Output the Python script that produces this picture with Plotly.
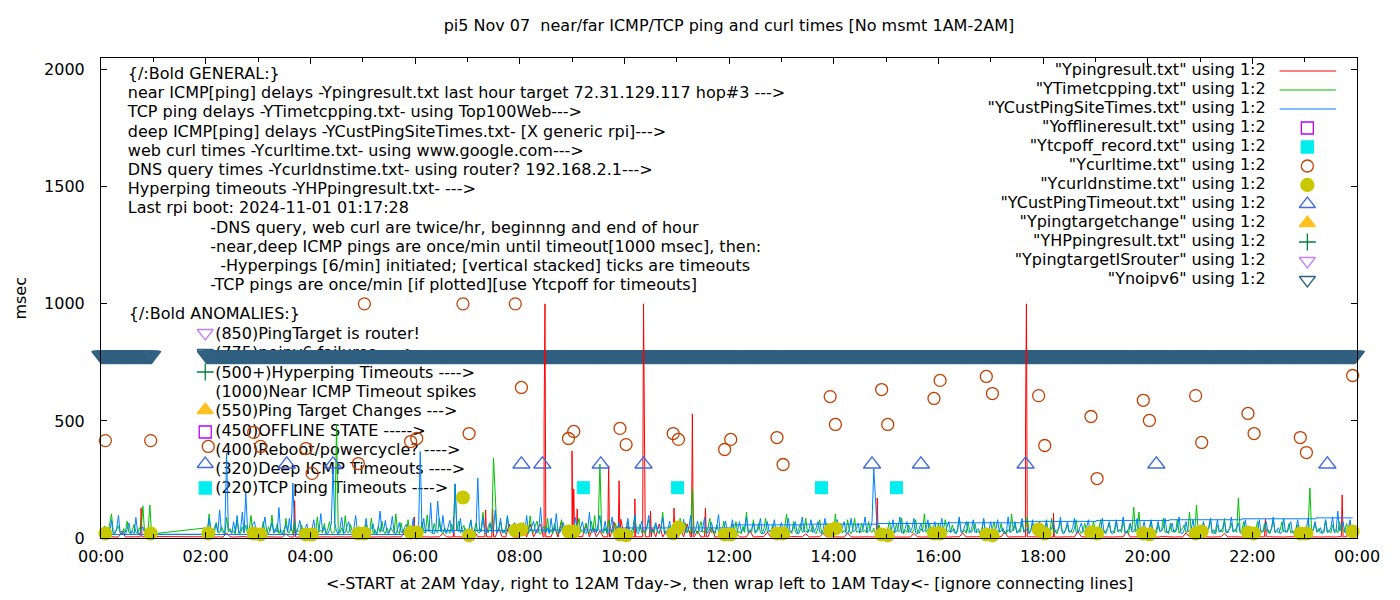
import plotly.graph_objects as go

# ---------------- data ----------------
# hours that have minute data (no measurements 1AM-2AM)
HOURS = [0, 2, 3, 4, 5, 6, 7, 8, 9, 10, 11, 12, 13, 14, 15, 16, 17, 18, 19, 20, 21, 22, 23]

# near ICMP ping (Ypingresult.txt), msec - 15 samples per hour (every 4 minutes)
RED_MS = [
    [4, 5, 4, 6, 4, 5, 30, 4, 5, 4, 6, 5, 5, 4, 6],
    [5, 4, 6, 4, 5, 4, 22, 5, 4, 5, 4, 6, 4, 5, 4],
    [4, 5, 4, 6, 5, 4, 5, 4, 18, 5, 4, 4, 5, 4, 5],
    [5, 4, 5, 4, 6, 5, 4, 5, 4, 5, 4, 6, 5, 4, 5],
    [4, 5, 4, 5, 4, 6, 5, 4, 5, 4, 5, 4, 25, 5, 4],
    [5, 4, 6, 5, 4, 5, 4, 5, 20, 5, 4, 5, 5, 4, 6],
    [4, 5, 30, 5, 4, 6, 5, 4, 4, 40, 5, 4, 60, 5, 4],
    [5, 40, 4, 60, 5, 35, 60, 5, 4, 5, 45, 4, 70, 5, 30],
    [5, 4, 6, 5, 60, 4, 45, 5, 30, 4, 5, 5, 70, 4, 80],
    [5, 50, 4, 5, 5, 4, 6, 5, 40, 5, 60, 4, 30, 5, 4],
    [4, 40, 5, 60, 4, 5, 30, 4, 5, 5, 45, 4, 5, 30, 4],
    [5, 4, 20, 5, 4, 5, 30, 4, 5, 4, 6, 25, 4, 5, 4],
    [4, 5, 4, 6, 5, 4, 5, 18, 4, 5, 4, 5, 20, 4, 5],
    [5, 4, 5, 4, 22, 5, 4, 5, 6, 4, 5, 4, 5, 4, 4],
    [4, 5, 4, 5, 4, 6, 5, 4, 20, 5, 4, 5, 4, 6, 5],
    [5, 4, 6, 4, 5, 4, 5, 22, 4, 5, 4, 5, 6, 4, 5],
    [4, 5, 4, 5, 25, 4, 5, 4, 6, 5, 4, 5, 5, 4, 5],
    [5, 4, 5, 4, 4, 5, 4, 6, 5, 4, 28, 5, 4, 5, 4],
    [4, 5, 4, 6, 5, 4, 5, 4, 5, 30, 4, 5, 4, 6, 5],
    [5, 4, 5, 4, 6, 5, 4, 5, 4, 5, 4, 22, 5, 4, 5],
    [4, 6, 5, 4, 5, 4, 5, 20, 4, 5, 4, 6, 5, 4, 5],
    [5, 4, 5, 4, 6, 5, 4, 6, 5, 4, 5, 4, 5, 6, 4],
    [4, 5, 4, 6, 5, 4, 5, 4, 5, 4, 6, 5, 5, 60, 5],
]
# near ICMP spikes / 1000 msec timeouts at single minutes
RED_SPIKE_TIMES = ["00:45", "00:46", "00:47", "03:41", "03:42", "03:43", "05:58", "05:59", "06:00",
                   "06:43", "06:44", "06:45", "07:20", "07:21", "07:22", "07:28", "07:29", "07:30",
                   "08:27", "08:28", "08:29", "08:30", "09:00", "09:01", "09:02", "09:03",
                   "09:05", "09:06", "09:07", "09:41", "09:42", "09:43", "09:53", "09:54", "09:55",
                   "10:11", "10:12", "10:13", "10:21", "10:22", "10:23", "10:24", "10:29", "10:30",
                   "10:31", "10:56", "10:57", "10:58", "11:17", "11:18", "11:19", "11:32", "11:33",
                   "11:34", "14:49", "14:50", "14:51", "17:39", "17:40", "17:41", "17:42",
                   "18:11", "18:12", "18:13", "22:14", "22:15", "22:16", "23:42", "23:43", "23:44"]
RED_SPIKE_MS = [5, 128, 5, 5, 160, 5, 5, 90, 5,
                5, 90, 5, 5, 120, 5, 5, 124, 5,
                5, 480, 1000, 5, 372, 5, 209, 5,
                5, 124, 5, 5, 308, 5, 5, 244, 5,
                5, 167, 5, 5, 1000, 517, 5, 5, 115,
                5, 5, 128, 5, 5, 530, 5, 5, 128,
                5, 5, 171, 5, 5, 500, 1000, 5,
                5, 107, 5, 5, 80, 5, 5, 184, 5]

# TCP ping (YTimetcpping.txt), msec - 30 samples per hour (every 2 minutes)
TCP_MS = [
    [24, 31, 18, 45, 22, 60, 103, 28, 19, 36, 52, 21, 17, 40, 26, 72, 23, 18, 34, 58, 25, 19, 44, 30, 137, 22, 38, 27, 141, 17],
    [43, 30, 103, 24, 38, 19, 66, 27, 21, 50, 33, 18, 88, 25, 40, 22, 31, 17, 78, 29, 20, 46, 24, 55, 19, 36, 96, 23, 30, 20],
    [26, 39, 20, 70, 24, 17, 48, 31, 98, 22, 27, 60, 19, 35, 24, 14, 84, 28, 21, 45, 18, 75, 26, 33, 22, 56, 20, 38, 16, 29],
    [28, 20, 41, 18, 90, 25, 33, 22, 62, 17, 38, 70, 24, 19, 30, 485, 26, 21, 44, 18, 95, 27, 22, 58, 31, 15, 40, 24, 48, 21],
    [18, 33, 60, 22, 27, 85, 19, 36, 16, 50, 24, 72, 29, 19, 42, 23, 45, 31, 20, 103, 26, 18, 66, 24, 35, 15, 78, 28, 22, 26],
    [30, 22, 40, 17, 70, 26, 21, 98, 33, 24, 19, 62, 28, 22, 84, 30, 18, 44, 25, 36, 20, 60, 26, 231, 31, 72, 22, 38, 54, 20],
    [26, 40, 78, 19, 32, 64, 24, 21, 45, 110, 28, 36, 22, 60, 30, 342, 196, 25, 40, 70, 21, 33, 18, 90, 27, 44, 21, 58, 29, 24],
    [22, 38, 66, 20, 29, 18, 95, 31, 24, 55, 72, 22, 17, 40, 50, 26, 84, 21, 33, 20, 62, 28, 17, 44, 78, 24, 36, 25, 56, 21],
    [26, 34, 17, 55, 84, 23, 30, 21, 64, 28, 19, 72, 33, 96, 24, 38, 316, 26, 20, 45, 18, 78, 29, 21, 40, 62, 25, 33, 28, 22],
    [18, 42, 70, 24, 30, 20, 90, 26, 35, 58, 22, 30, 17, 48, 78, 25, 33, 21, 62, 27, 18, 40, 110, 24, 31, 21, 50, 28, 37, 23],
    [25, 36, 84, 20, 29, 64, 22, 31, 18, 209, 26, 35, 17, 48, 70, 24, 30, 20, 44, 84, 22, 30, 18, 56, 27, 36, 25, 72, 21, 30],
    [21, 33, 58, 26, 70, 19, 30, 18, 50, 24, 111, 28, 36, 25, 78, 20, 33, 62, 24, 17, 40, 84, 26, 31, 22, 56, 28, 20, 36, 24],
    [25, 36, 48, 103, 22, 30, 20, 70, 28, 17, 40, 62, 24, 30, 84, 21, 35, 27, 56, 25, 19, 42, 78, 24, 18, 33, 64, 28, 22, 30],
    [30, 103, 26, 40, 62, 21, 33, 24, 78, 30, 18, 36, 84, 25, 29, 22, 64, 26, 33, 21, 70, 30, 24, 42, 17, 30, 56, 24, 28, 21],
    [25, 38, 70, 21, 30, 24, 62, 28, 30, 84, 18, 33, 24, 56, 28, 21, 36, 78, 25, 20, 40, 30, 103, 24, 36, 62, 29, 18, 33, 24],
    [62, 28, 21, 40, 78, 25, 33, 22, 56, 26, 18, 38, 84, 30, 24, 35, 20, 70, 28, 24, 40, 62, 22, 30, 18, 42, 78, 26, 36, 30],
    [25, 40, 70, 21, 33, 28, 62, 24, 30, 18, 36, 26, 103, 30, 56, 22, 33, 25, 70, 28, 40, 90, 21, 35, 62, 24, 30, 25, 56, 28],
    [21, 36, 62, 25, 30, 84, 22, 33, 18, 40, 70, 28, 25, 36, 56, 24, 30, 21, 40, 78, 26, 33, 18, 36, 62, 24, 28, 21, 40, 70],
    [30, 22, 36, 78, 25, 33, 18, 40, 62, 24, 30, 21, 70, 28, 36, 24, 84, 22, 30, 18, 56, 33, 132, 26, 38, 111, 25, 30, 21, 36],
    [25, 36, 70, 22, 30, 21, 56, 28, 33, 84, 24, 30, 18, 62, 26, 36, 25, 78, 21, 33, 40, 56, 24, 30, 111, 26, 36, 30, 141, 25],
    [21, 33, 62, 26, 30, 40, 78, 22, 35, 18, 56, 28, 33, 24, 84, 21, 30, 40, 62, 25, 36, 24, 171, 30, 28, 70, 22, 33, 24, 21],
    [30, 24, 36, 70, 21, 33, 25, 62, 28, 36, 18, 40, 78, 24, 30, 21, 36, 70, 26, 33, 25, 62, 22, 30, 18, 40, 56, 26, 33, 30],
    [25, 36, 48, 214, 22, 33, 62, 28, 40, 21, 30, 24, 78, 26, 33, 22, 56, 30, 36, 21, 70, 28, 33, 25, 62, 24, 36, 30, 40, 25],
]

# deep ICMP ping (YCustPingSiteTimes.txt), msec - 30 samples per hour (every 2 minutes)
DEEP_MS = [
    [14, 26, 52, 18, 33, 20, 78, 15, 24, 40, 96, 22, 17, 30, 12, 45, 64, 19, 28, 18, 88, 25, 14, 36, 48, 20, 12, 30, 22, 16],
    [16, 30, 84, 22, 15, 45, 60, 24, 120, 33, 22, 18, 363, 40, 30, 19, 70, 25, 96, 18, 33, 110, 22, 192, 40, 26, 22, 60, 70, 28],
    [30, 22, 15, 48, 90, 26, 18, 35, 66, 22, 40, 25, 130, 20, 16, 38, 58, 24, 84, 30, 235, 22, 18, 44, 75, 26, 14, 40, 60, 24],
    [22, 40, 78, 18, 16, 33, 104, 28, 45, 22, 18, 36, 60, 300, 62, 30, 14, 40, 88, 24, 22, 50, 70, 26, 18, 42, 96, 24, 28, 35],
    [18, 36, 84, 22, 28, 40, 60, 20, 14, 46, 115, 28, 33, 75, 22, 18, 40, 92, 26, 16, 38, 66, 24, 22, 44, 58, 28, 20, 36, 84],
    [28, 40, 22, 370, 30, 84, 24, 36, 28, 150, 22, 18, 40, 158, 60, 26, 96, 30, 18, 44, 75, 28, 22, 231, 33, 28, 84, 24, 30, 40],
    [22, 36, 75, 24, 18, 40, 256, 30, 28, 90, 22, 18, 50, 66, 24, 36, 120, 22, 33, 84, 28, 22, 44, 96, 26, 18, 40, 66, 24, 30],
    [30, 44, 18, 26, 96, 30, 28, 50, 72, 24, 22, 40, 130, 28, 30, 22, 44, 18, 84, 28, 36, 104, 24, 22, 40, 66, 28, 18, 36, 24],
    [28, 40, 88, 24, 22, 48, 70, 26, 18, 36, 110, 30, 24, 40, 22, 60, 96, 28, 30, 72, 24, 18, 44, 90, 26, 30, 40, 66, 24, 28],
    [22, 36, 84, 26, 28, 44, 100, 24, 18, 40, 72, 28, 30, 50, 96, 22, 26, 40, 66, 28, 24, 44, 88, 20, 18, 36, 72, 26, 28, 40],
    [30, 40, 22, 28, 80, 24, 28, 44, 96, 22, 18, 40, 72, 30, 26, 44, 88, 24, 22, 40, 66, 28, 26, 48, 100, 22, 18, 36, 72, 28],
    [28, 40, 78, 24, 18, 36, 70, 28, 30, 44, 90, 22, 26, 40, 64, 24, 28, 44, 84, 22, 18, 36, 70, 28, 30, 40, 78, 24, 22, 36],
    [66, 30, 22, 40, 84, 26, 28, 44, 70, 24, 18, 40, 90, 28, 30, 22, 40, 78, 24, 28, 44, 70, 26, 18, 36, 84, 28, 30, 40, 24],
    [22, 40, 78, 26, 28, 44, 70, 24, 18, 36, 84, 28, 30, 40, 64, 22, 26, 44, 90, 24, 28, 40, 70, 295, 171, 30, 22, 40, 28, 24],
    [30, 40, 18, 26, 78, 24, 28, 44, 90, 22, 26, 40, 70, 24, 28, 44, 84, 22, 18, 36, 64, 28, 30, 40, 78, 24, 22, 36, 70, 26],
    [28, 40, 84, 22, 26, 44, 70, 24, 30, 40, 18, 28, 90, 24, 26, 44, 70, 28, 22, 36, 78, 24, 30, 40, 18, 28, 84, 24, 26, 36],
    [70, 30, 22, 40, 78, 24, 30, 44, 18, 26, 90, 24, 28, 40, 70, 22, 26, 44, 84, 24, 30, 40, 18, 28, 78, 24, 26, 44, 70, 28],
    [28, 40, 78, 22, 26, 44, 64, 24, 30, 40, 90, 22, 18, 36, 70, 28, 26, 44, 84, 24, 22, 40, 64, 28, 30, 44, 78, 24, 22, 36],
    [30, 40, 22, 28, 84, 24, 26, 44, 70, 22, 18, 36, 78, 28, 30, 40, 90, 24, 22, 40, 64, 26, 28, 44, 84, 24, 18, 36, 70, 28],
    [28, 44, 78, 24, 18, 36, 70, 28, 30, 44, 84, 22, 26, 40, 64, 24, 28, 44, 90, 22, 18, 36, 70, 28, 30, 40, 78, 24, 26, 36],
    [22, 36, 70, 28, 30, 44, 84, 22, 18, 36, 78, 26, 28, 44, 70, 24, 22, 40, 90, 28, 30, 44, 64, 22, 18, 36, 78, 26, 28, 40],
    [30, 40, 18, 26, 78, 24, 28, 44, 70, 22, 26, 40, 90, 24, 30, 44, 18, 28, 84, 24, 26, 44, 70, 22, 28, 40, 78, 24, 26, 36],
    [28, 44, 84, 22, 26, 40, 70, 24, 30, 44, 18, 28, 78, 24, 26, 44, 90, 22, 28, 115, 30, 44, 70, 24, 22, 40, 78, 28, 26, 36],
]

# deep ICMP connecting (wrap) line levels
DEEP_STEP_TIMES = ["00:00", "05:50", "07:57", "09:51", "12:03", "13:25", "14:49",
                   "16:12", "17:35", "19:01", "20:25", "21:48", "23:13", "23:55"]
DEEP_STEP_MS = [15, 32, 34, 43, 56, 59, 62, 65, 71, 75, 78, 82, 86, 86]

# web curl (Ycurltime.txt) and DNS query (Ycurldnstime.txt), twice an hour
CURL_TIMES = ["00:05", "00:57", "02:03", "02:55", "03:03", "03:55", "04:02", "04:55", "05:02",
              "05:55", "06:02", "06:55", "07:02", "07:55", "08:02", "08:56", "09:02", "09:55",
              "10:02", "10:56", "11:02", "11:55", "12:02", "12:55", "13:02", "13:56", "14:02",
              "14:55", "15:02", "15:55", "16:02", "16:55", "17:02", "17:55", "18:02", "18:55",
              "19:02", "19:55", "20:02", "20:55", "21:02", "21:55", "22:02", "22:55", "23:02",
              "23:55"]
CURL_MS = [416, 416, 391, 451, 391, 382, 276, 318, 1000, 412, 425, 1000, 446, 1000, 643,
           425, 455, 468, 399, 446, 421, 378, 421, 429, 314, 604, 485, 634, 485, 596, 673,
           690, 617, 608, 395, 519, 254, 588, 502, 608, 408, 532, 446, 429, 365, 694]
DNS_MS = [19, 19, 19, 19, 15, 15, 15, 19, 19, 23, 23, 173, 11, 32, 36, 28, 28, 15, 11,
          19, 45, 15, 15, 19, 19, 32, 41, 15, 11, 19, 19, 15, 11, 36, 19, 23, 19, 19,
          15, 19, 28, 23, 19, 19, 19, 28]

# TCP ping timeouts (Ytcpoff_record.txt)
TCPOFF_TIMES = ["09:13", "11:01", "13:46", "15:12"]
TCPOFF_MS = [215, 215, 215, 215]

# deep ICMP timeouts (YCustPingTimeout.txt)
CUSTTO_TIMES = ["03:33", "04:26", "08:02", "08:26", "09:33", "10:22", "14:44",
                "15:40", "17:40", "20:10", "23:26"]
CUSTTO_MS = [315, 315, 315, 315, 315, 315, 315, 315, 315, 315, 315]

# no ipv6 (Ynoipv6) - marked every minute inside these spans
NOIPV6_SPANS = [("00:00", "00:58"), ("02:01", "23:58")]
NOIPV6_MS = 780

TITLE = "pi5 Nov 07\u00a0 near/far ICMP/TCP ping and curl times [No msmt 1AM-2AM]"
XTITLE = "<-START at 2AM Yday, right to 12AM Tday->, then wrap left to 1AM Tday<- [ignore connecting lines]"
XTICK_TEXT = ["00:00", "02:00", "04:00", "06:00", "08:00", "10:00", "12:00",
              "14:00", "16:00", "18:00", "20:00", "22:00", "00:00"]

GENERAL_LINES = [
    "{/:Bold GENERAL:}",
    "near ICMP[ping] delays -Ypingresult.txt last hour target 72.31.129.117 hop#3 --->",
    "TCP ping delays -YTimetcpping.txt- using Top100Web--->",
    "deep ICMP[ping] delays -YCustPingSiteTimes.txt- [X generic rpi]--->",
    "web curl times -Ycurltime.txt- using www.google.com--->",
    "DNS query times -Ycurldnstime.txt- using router? 192.168.2.1--->",
    "Hyperping timeouts -YHPpingresult.txt- --->",
    "Last rpi boot: 2024-11-01 01:17:28",
    "-DNS query, web curl are twice/hr, beginnng and end of hour",
    "-near,deep ICMP pings are once/min until timeout[1000 msec], then:",
    "-Hyperpings [6/min] initiated; [vertical stacked] ticks are timeouts",
    "-TCP pings are once/min [if plotted][use Ytcpoff for timeouts]",
]
ANOMALY_LINES = [
    "(850)PingTarget is router!",
    "(775)noipv6 failures ---->",
    "(500+)Hyperping Timeouts ---->",
    "(1000)Near ICMP Timeout spikes",
    "(550)Ping Target Changes --->",
    "(450)OFFLINE STATE ----->",
    "(400)Reboot/powercycle? ---->",
    "(320)Deep ICMP Timeouts ---->",
    "(220)TCP ping Timeouts ---->",
]
LEGEND_LABELS = [
    '"Ypingresult.txt" using 1:2',
    '"YTimetcpping.txt" using 1:2',
    '"YCustPingSiteTimes.txt" using 1:2',
    '"Yofflineresult.txt" using 1:2',
    '"Ytcpoff_record.txt" using 1:2',
    '"Ycurltime.txt" using 1:2',
    '"Ycurldnstime.txt" using 1:2',
    '"YCustPingTimeout.txt" using 1:2',
    '"Ypingtargetchange" using 1:2',
    '"YHPpingresult.txt" using 1:2',
    '"YpingtargetISrouter" using 1:2',
    '"Ynoipv6" using 1:2',
]

# ---------------- styles ----------------
FONT = "DejaVu Sans"
FS = 16
RED, GREEN, BLUE = "#ff0000", "#00c000", "#0080ff"
C_OFFLINE, C_TCPOFF, C_CURL, C_DNS = "#c000ff", "#00eeee", "#c04000", "#c8c800"
C_CUSTTO, C_TARGET, C_HP, C_ISROUTER, C_NOIPV6 = "#4169e1", "#ffc020", "#008040", "#c080ff", "#306080"

# plot frame in page pixels (used to place the gnuplot-like key and labels)
L, R, T, B = 101, 1366, 58, 538
Y_TOP = 2050
PAGE_PAD = 8          # default body margin of the html page
FIG_W, FIG_H = 1400 - 2 * PAGE_PAD, 600 - 2 * PAGE_PAD


def hx(px):
    return (px - L) * 24.0 / (R - L)


def vy(py):
    return (B - py) * Y_TOP / (B - T)


def hrs(s):
    h, m = s.split(":")
    return int(h) + int(m) / 60.0


# series in time order
t_red = [h + 4 * i / 60.0 for h in HOURS for i in range(15)]
red_pts = list(zip(t_red, [v for row in RED_MS for v in row]))
red_pts += [(hrs(s), v) for s, v in zip(RED_SPIKE_TIMES, RED_SPIKE_MS)]
red_pts.sort(key=lambda p: p[0])
t_2min = [h + 2 * i / 60.0 for h in HOURS for i in range(30)]
tcp_y = [v for row in TCP_MS for v in row]
deep_y = [v for row in DEEP_MS for v in row]

noipv6_x = []
for a, b in NOIPV6_SPANS:
    m0, m1 = int(round(hrs(a) * 60)), int(round(hrs(b) * 60))
    noipv6_x += [m / 60.0 for m in range(m0, m1 + 1)]

fig = go.Figure()

# labels are in the back layer (as in gnuplot)
gen_x = [128] * 8 + [211, 211, 221, 211]
gen_y = [75 + 19.2 * i for i in range(len(GENERAL_LINES))]
fig.add_trace(go.Scatter(
    x=[hx(v) for v in gen_x], y=[vy(v) for v in gen_y], mode="text",
    text=GENERAL_LINES, textposition="middle right",
    textfont=dict(family=FONT, size=FS, color="black"), cliponaxis=False, hoverinfo="skip"))
an_x = [129] + [216] * len(ANOMALY_LINES)
an_y = [315] + [335 + 19.3 * i for i in range(len(ANOMALY_LINES))]
fig.add_trace(go.Scatter(
    x=[hx(v) for v in an_x], y=[vy(v) for v in an_y], mode="text",
    text=["{/:Bold ANOMALIES:}"] + ANOMALY_LINES, textposition="middle right",
    textfont=dict(family=FONT, size=FS, color="black"), cliponaxis=False, hoverinfo="skip"))

# noipv6 band
fig.add_trace(go.Scatter(
    x=noipv6_x, y=[NOIPV6_MS] * len(noipv6_x), mode="markers",
    marker=dict(symbol="triangle-down-open", size=16, color=C_NOIPV6, line=dict(width=1.3, color=C_NOIPV6)),
    cliponaxis=False))

# main line series
fig.add_trace(go.Scatter(x=[p[0] for p in red_pts], y=[p[1] for p in red_pts], mode="lines",
                         line=dict(color=RED, width=1)))
fig.add_trace(go.Scatter(x=t_2min, y=tcp_y, mode="lines", line=dict(color=GREEN, width=1)))
fig.add_trace(go.Scatter(x=t_2min, y=deep_y, mode="lines", line=dict(color=BLUE, width=1)))
fig.add_trace(go.Scatter(x=[hrs(s) for s in DEEP_STEP_TIMES], y=DEEP_STEP_MS, mode="lines",
                         line=dict(color=BLUE, width=1, shape="hv")))

# point series
fig.add_trace(go.Scatter(
    x=[hrs(s) for s in TCPOFF_TIMES], y=TCPOFF_MS, mode="markers",
    marker=dict(symbol="square", size=13, color=C_TCPOFF)))
fig.add_trace(go.Scatter(
    x=[hrs(s) for s in CURL_TIMES], y=CURL_MS, mode="markers",
    marker=dict(symbol="circle-open", size=12, color=C_CURL, line=dict(width=1.3, color=C_CURL)),
    cliponaxis=False))
fig.add_trace(go.Scatter(
    x=[hrs(s) for s in CURL_TIMES], y=DNS_MS, mode="markers",
    marker=dict(symbol="circle", size=14, color=C_DNS), cliponaxis=False))
fig.add_trace(go.Scatter(
    x=[hrs(s) for s in CUSTTO_TIMES], y=CUSTTO_MS, mode="markers",
    marker=dict(symbol="triangle-up-open", size=15, color=C_CUSTTO, line=dict(width=1.3, color=C_CUSTTO))))

# anomaly key markers next to the labels
an_marks = [
    (333, "triangle-down-open", C_ISROUTER),
    (353, "triangle-down-open", C_NOIPV6),
    (372, "cross-thin-open", C_HP),
    (410, "triangle-up", C_TARGET),
    (432, "square-open", C_OFFLINE),
    (464, "triangle-up-open", C_CUSTTO),
    (488, "square", C_TCPOFF),
]
for py, sym, col in an_marks:
    fig.add_trace(go.Scatter(
        x=[hx(206)], y=[vy(py)], mode="markers",
        marker=dict(symbol=sym, size=14 if "triangle" in sym else 12, color=col,
                    line=dict(width=1.3, color=col)), cliponaxis=False))

# gnuplot style key (text right aligned, sample on the right)
key_y = [71 + 19.0 * i for i in range(len(LEGEND_LABELS))]
fig.add_trace(go.Scatter(
    x=[hx(1274)] * len(LEGEND_LABELS), y=[vy(v) for v in key_y], mode="text",
    text=LEGEND_LABELS, textposition="middle left",
    textfont=dict(family=FONT, size=FS, color="black"), cliponaxis=False, hoverinfo="skip"))
for i, col in enumerate([RED, GREEN, BLUE]):
    fig.add_trace(go.Scatter(
        x=[hx(1288), hx(1345)], y=[vy(key_y[i])] * 2, mode="lines",
        line=dict(color=col, width=1), cliponaxis=False))
key_marks = [
    ("square-open", C_OFFLINE, 12), ("square", C_TCPOFF, 12), ("circle-open", C_CURL, 12),
    ("circle", C_DNS, 13), ("triangle-up-open", C_CUSTTO, 14), ("triangle-up", C_TARGET, 14),
    ("cross-thin-open", C_HP, 12), ("triangle-down-open", C_ISROUTER, 14),
    ("triangle-down-open", C_NOIPV6, 14),
]
for j, (sym, col, sz) in enumerate(key_marks):
    fig.add_trace(go.Scatter(
        x=[hx(1316)], y=[vy(key_y[3 + j])], mode="markers",
        marker=dict(symbol=sym, size=sz, color=col, line=dict(width=1.3, color=col)),
        cliponaxis=False))

axis_common = dict(showline=True, linecolor="black", linewidth=1, mirror="allticks",
                   ticks="inside", tickcolor="black", showgrid=False, zeroline=False,
                   tickfont=dict(family=FONT, size=FS, color="black"))
fig.update_xaxes(range=[0, 24], tickmode="array", tickvals=list(range(0, 25, 2)),
                 ticktext=XTICK_TEXT, ticklen=6, ticklabelstandoff=4,
                 minor=dict(tick0=0, dtick=1, ticks="inside", ticklen=4, tickcolor="black"),
                 **axis_common)
fig.update_yaxes(range=[0, Y_TOP], tickvals=[0, 500, 1000, 1500, 2000], ticklen=6,
                 ticklabelstandoff=12, **axis_common)

fig.update_layout(
    width=FIG_W, height=FIG_H,
    margin=dict(l=L - PAGE_PAD, r=1400 - PAGE_PAD - R, t=T - PAGE_PAD, b=600 - PAGE_PAD - B),
    paper_bgcolor="white", plot_bgcolor="white", showlegend=False,
    title=dict(text=TITLE, x=0.5, xref="paper", y=1 - (25 - PAGE_PAD) / FIG_H, yref="container",
               xanchor="center", yanchor="middle", font=dict(family=FONT, size=FS, color="black")),
    annotations=[
        dict(text=XTITLE, x=0.5, y=-(583 - B) / (B - T), xref="paper", yref="paper",
             showarrow=False, xanchor="center", yanchor="middle",
             font=dict(family=FONT, size=FS, color="black")),
        dict(text="msec", x=-(L - 19) / (R - L), y=0.5, xref="paper", yref="paper",
             showarrow=False, textangle=-90, xanchor="center", yanchor="middle",
             font=dict(family=FONT, size=FS, color="black")),
    ],
)

fig.write_html("out.html")
